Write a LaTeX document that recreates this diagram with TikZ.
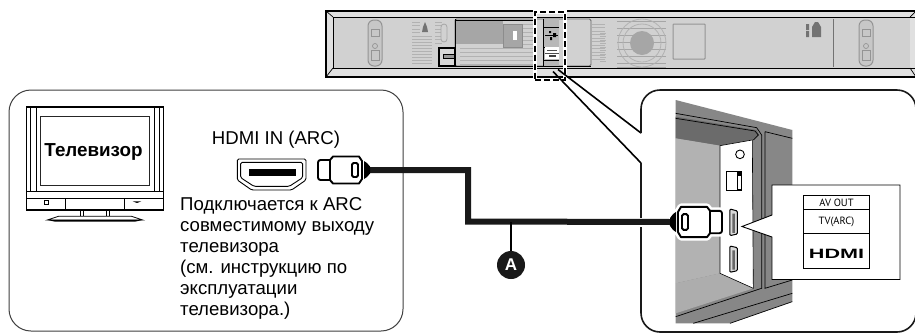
\documentclass[tikz,border=0pt]{standalone}
\usepackage{fontspec}
\setmainfont{Liberation Sans}
\newfontfamily\narrowfont{PT Sans}
\tikzset{
  x=1pt,y=-1pt,
  panelbox/.style={draw=black!75,line width=1pt,rounded corners=22pt,fill=white},
  zoombox/.style={draw=black!90,line width=1.6pt},
  cablewire/.style={draw=black!90,line width=6pt,line join=miter},
  leader/.style={draw=black,line width=1.6pt},
  bodytext/.style={font=\fontsize{18.6}{21}\selectfont,align=left,anchor=north west,inner sep=0pt},
  plugbody/.style={draw=black,line width=1.9pt,fill=white,line join=round},
  labeltext/.style={font=\narrowfont\fontsize{10.5}{12}\selectfont,inner sep=0pt},
  badge/.style={circle,fill=black!90,minimum size=28pt,inner sep=0pt,text=white,font=\bfseries\fontsize{17}{17}\selectfont},
}
\newcommand{\ventrows}[5]{% x1,x2,y1,y2,step
  \foreach \yy in {#3,#5,...,#4}{\draw[draw=black!30,line width=.9pt] (#1,\yy) -- (#2,\yy);}}
\newcommand{\plughalo}{%
  \draw[draw=white,line width=7pt,fill=white,line join=round] (0,-10) -- (12,-10) -- (15,-13.5) -- (41,-13.5) -- (44,-9) -- (52,-6) -- (52,6) -- (44,9) -- (41,13.5) -- (15,13.5) -- (12,10) -- (0,10) -- cycle;
}
\newcommand{\hdmiplug}{%
  \draw[plugbody,rounded corners=2.5pt] (0,-10) -- (15,-10) -- (15,10) -- (0,10) -- cycle;
  \draw[plugbody] (12,-10) -- (15,-13.5) -- (41,-13.5) -- (44,-9) -- (44,9) -- (41,13.5) -- (15,13.5) -- (12,10) -- cycle;
  \draw[line width=1.9pt,rounded corners=1.5pt] (34,-7) rectangle (40,7);
  \fill[black] (46,-9) -- (49,-7) -- (52,-3.5) -- (52,3.5) -- (49,7) -- (46,9) -- cycle;
}
\begin{document}
\begin{tikzpicture}[line cap=butt]
\useasboundingbox (0,0) rectangle (915,333);
\fill[white] (0,0) rectangle (915,333);

% ===== sound bar =====
\fill[black!12] (326,11) rectangle (916,77);
\fill[black!18] (333,17) rectangle (910,68);
\draw[black,line width=1.2pt] (916,11) -- (326,11) -- (326,77) -- (916,77);
\draw[black,line width=.9pt] (916,17) -- (333,17) -- (333,68) -- (916,68);
\draw[black,line width=.7pt] (326,11) -- (333,17) (326,77) -- (333,68) (910,17) -- (916,11) (910,68) -- (916,77);
% mounting slots
\foreach \sx in {368,859}{
  \draw[draw=black!42,line width=1pt,rounded corners=6pt,fill=black!22] (\sx,20) rectangle ++(14,46);
  \draw[draw=black!42,line width=.7pt] (\sx+3,29) rectangle ++(8,7) (\sx+3,50) rectangle ++(8,10);
  \draw[draw=black!42,line width=.7pt] (\sx+7,46) circle (2.5pt);
}
% vents
\ventrows{412}{420}{22}{34}{25.5}
\ventrows{412}{432}{36}{64}{39}
\ventrows{435}{442}{22}{44}{25.5}
\draw[draw=black!35,fill=black!18,rounded corners=3pt,line width=.8pt] (441,24) rectangle (447,42);
\fill[black!55] (425,22) -- (427,27) -- (428,32) -- (422,32) -- (423,27) -- cycle;
% recess
\draw[draw=black!60,fill=black!18,rounded corners=1.5pt,line width=.8pt] (455,19) rectangle (591,66);
\ventrows{460}{537}{48}{64}{52}
\ventrows{522}{537}{24}{46}{28}
\ventrows{592}{605}{24}{62}{27.5}
\ventrows{600}{606}{33}{62}{36.5}
\fill[black!35] (455,20) rectangle (503,44);
\draw[draw=black!45,line width=.7pt,fill=black!35] (503,24) rectangle (522,47);
\fill[white] (513,31) rectangle (517,40);
\draw[black,line width=1pt] (455,20) -- (535,20);
\draw[black,line width=1.6pt] (455,66.5) -- (591,66.5);
\draw[black,line width=1pt] (455,19) -- (455,48);
\draw[black,line width=1.3pt,fill=black!15] (439,48) rectangle (455,66);
\draw[black,line width=.7pt,fill=black!40] (443,54) rectangle (454,58);
% grille
\foreach \yy in {21,28,35,42,49,56,63,67}{\draw[draw=black!35,line width=1pt] (617,\yy) -- (666,\yy);}
\draw[draw=black!30,line width=.8pt] (642,43) circle (24pt) (642,43) circle (19pt);
\fill[black!35] (642,43) circle (12pt);
\draw[draw=black!42,line width=1pt,rounded corners=.7pt] (673,24) rectangle (705,59);
\draw[draw=black!55,line width=.9pt] (833,19) -- (833,67);
\fill[black!55] (806,24) rectangle (809,30) (806,31) rectangle (809,37);
\fill[black!55] (812,27) -- (815,22) -- (818,22) -- (821,27) -- (821,37) -- (812,37) -- cycle;
% centre panel detail
\fill[black!28] (543,19) rectangle (559,66);
\draw[black,line width=1pt] (543,19) -- (543,66) (544,27) -- (559,27) (545,35) -- (558,35) (543,47) -- (559,47) (543,60) -- (559,60);
\fill[white] (545,47) rectangle (559,59);
\draw[black!70,line width=.5pt] (545,53) -- (559,53) (547,50) -- (557,50);
\fill[black] (549,31) rectangle (551,33) (553,33) rectangle (556,37) (550,37) rectangle (552,40);
\fill[black!75] (549,55) rectangle (556,57);
% dashed selection
\node[draw=white,line width=4pt,minimum width=30pt,minimum height=68pt,inner sep=0pt] (selhalo) at (550,45.5) {};
\node[draw=black,dash pattern=on 6pt off 3pt,line width=2pt,minimum width=30pt,minimum height=68pt,inner sep=0pt] (sel) at (550,45.5) {};

% ===== left panel =====
\node[panelbox,minimum width=394pt,minimum height=241pt,inner sep=0pt] (leftpanel) at (206,210.5) {};

% TV
\begin{scope}[shift={(0,85)},x=.3333pt,y=-.3333pt]
 \draw[black,line width=.7pt] (80,65) rectangle (490,375);
 \draw[black,line width=2pt] (80,66) -- (490,66);
 \draw[black,line width=2pt] (80,375) -- (490,375);
 \draw[black,line width=.7pt] (92,66) -- (92,320) (108,66) -- (108,320) (462,66) -- (462,320) (477,66) -- (477,320);
 \draw[black!85,line width=.8pt] (122,93) rectangle (447,300);
 \draw[black,line width=.8pt] (80,320) -- (490,320) (80,340) -- (490,340) (197,340) -- (197,373) (373,340) -- (373,373);
 \draw[black,line width=.8pt] (134,346) rectangle (146,357);
 \fill[black] (398,349) -- (424,349) -- (411,354) -- cycle;
 \draw[black,line width=1pt] (243,375) -- (243,394) (250,375) -- (250,394) (320,375) -- (320,394) (328,375) -- (328,394);
 \draw[black,line width=.8pt,fill=white] (175,394) -- (395,394) -- (428,405) -- (142,405) -- cycle;
 \fill[black] (142,405) -- (428,405) -- (405,410) -- (165,410) -- cycle;
\end{scope}
\node[font=\bfseries\fontsize{18.8}{20}\selectfont,inner sep=0pt] (tvlabel) at (93.5,151.5) {Телевизор};
\node[font=\fontsize{18.6}{20}\selectfont,inner sep=0pt] (hdmiin) at (276,140) {HDMI IN (ARC)};

% HDMI socket
\begin{scope}[shift={(0,85)},x=.3333pt,y=-.3333pt]
 \draw[black,line width=.9pt,rounded corners=1.5pt] (712,222) -- (918,222) -- (918,285) -- (875,315) -- (755,315) -- (712,285) -- cycle;
 \draw[black,line width=.9pt,rounded corners=1.5pt] (722,232) -- (908,232) -- (908,278) -- (868,304) -- (762,304) -- (722,278) -- cycle;
 \fill[black] (748,252) rectangle (888,272);
\end{scope}

\node[bodytext] (note) at (180,197.5) {Подключается к ARC\\совместимому выходу\\телевизора\\(см. инструкцию по\\эксплуатации\\телевизора.)};

% ===== right panel =====
\fill[white] (641,89) rectangle (915,333);
\begin{scope}[shift={(620,85)},x=.3333pt,y=-.3333pt]
 % housing
 \fill[black!47] (167,45) -- (517,135) -- (517,650) -- (330,715) -- (167,715) -- cycle;
 \fill[black!58] (167,95) -- (410,135) -- (417,150) -- (395,165) -- (300,182) -- (167,160) -- cycle;
 \fill[black!30] (167,160) -- (300,182) -- (300,565) -- (167,595) -- cycle;
 \fill[black!32] (167,595) -- (300,565) -- (400,610) -- (167,685) -- cycle;
 \draw[black,line width=.7pt] (167,85) -- (410,128) -- (425,150) -- (425,610) -- (167,695);
 \draw[black,line width=.7pt] (167,100) -- (405,138) -- (415,150) -- (400,165);
 \draw[black,line width=.7pt] (435,140) -- (517,160) (435,140) -- (435,610) -- (517,585);
 \draw[black,line width=.7pt] (330,715) -- (517,650) (220,715) -- (517,625);
 \filldraw[fill=white,draw=black,line width=.6pt] (300,182) -- (397,165) -- (400,610) -- (300,565) -- cycle;
 \draw[black,line width=.9pt] (360,208) circle (13);
 \draw[black,line width=1pt] (320,260) rectangle (366,318);
 \fill[black] (350,262) rectangle (366,318);
 \fill[white] (354,272) rectangle (362,312);
 \draw[black,line width=1pt,rounded corners=1pt,fill=black!15] (330,372) -- (352,378) -- (352,447) -- (330,452) -- cycle;
 \draw[black,line width=1pt,rounded corners=1pt,fill=black!15] (330,483) -- (352,488) -- (352,557) -- (330,562) -- cycle;
 \fill[black!60] (337,386) rectangle (345,444) (337,496) rectangle (345,554);
\end{scope}

% leader lines + panel outline
\draw[leader] (sel.south) ++(3,-9) coordinate (la) -- (641,163);
\draw[leader] (sel.south) ++(8,-11) coordinate (lb) -- (641,133);
\draw[zoombox,rounded corners=19pt] (641,133) -- (641,90) -- (916,90) -- (916,332) -- (641,332) -- (641,163);

% callout
\filldraw[fill=white,draw=black,line width=.9pt] (772,185) -- (900,185) -- (900,279.5) -- (772,279.5) -- (772,237) -- (742,226.5) -- (772,215) -- cycle;
\node[draw=black,line width=.9pt,minimum width=66.5pt,minimum height=73.5pt,inner sep=0pt] (tbl) at (836.5,232) {};
\draw[black,line width=.9pt] (803.5,209) -- (869.7,209) (803.5,233.5) -- (869.7,233.5);
\node[labeltext] (avout) at (836.5,203) {AV OUT};
\node[labeltext] (tvarc) at (836.5,222) {TV(ARC)};
\node[inner sep=0pt] (hdmilogo) at (836.5,253.5) {\scalebox{1.6}[1]{\bfseries\fontsize{13.5}{14}\selectfont HDMI}};

% cable
\coordinate (plugA) at (368,170);
\coordinate (plugB) at (672,222);
\begin{scope}[shift={(722,222)},xscale=-1,yscale=1.12]\plughalo\end{scope}
\draw[draw=white,line width=9pt] (640,222) -- (672,222);
\draw[cablewire,line cap=butt] (plugA) -- (468,170) -- (468,221.5) -- (plugB);
\node[badge] (badgeA) at (511,265) {A};
\draw[black,line width=1.6pt] (badgeA.north) -- (511,222);

\begin{scope}[shift={(318,170)}]\hdmiplug\end{scope}
\begin{scope}[shift={(722,222)},xscale=-1,yscale=1.12]\hdmiplug\end{scope}
\end{tikzpicture}
\end{document}
